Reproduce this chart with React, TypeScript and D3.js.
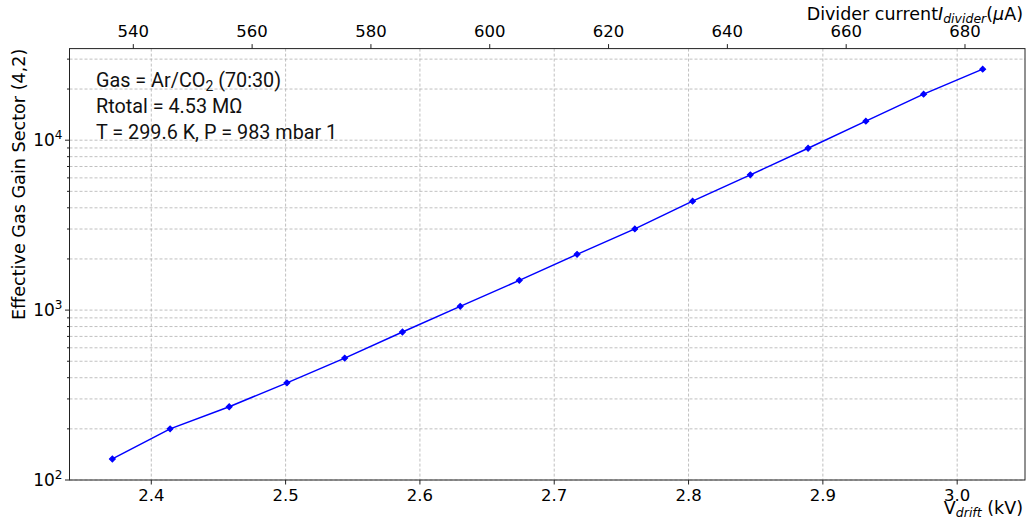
import * as d3 from 'd3'
import { useEffect, useRef } from 'react'

// drift voltage (kV) and measured effective gain
const vDrift = [2.371, 2.414, 2.458, 2.501, 2.544, 2.587, 2.63, 2.674, 2.717, 2.76, 2.803, 2.846, 2.889, 2.932, 2.975, 3.019]
const gain = [133, 200, 270, 373, 522, 743, 1052, 1496, 2128, 3006, 4375, 6250, 8970, 12940, 18660, 26180]

const bottomTicks = [2.4, 2.5, 2.6, 2.7, 2.8, 2.9, 3.0]
const topTicks = [540, 560, 580, 600, 620, 640, 660, 680]
const yMajor = [100, 1000, 10000]
const yMinor = [200, 300, 400, 500, 600, 700, 800, 900, 2000, 3000, 4000, 5000, 6000, 7000, 8000, 9000, 20000, 30000]

const W = 1029
const H = 529
const font = 'DejaVu Sans, sans-serif'

export default function App() {
  const svgRef = useRef<SVGSVGElement>(null)

  useEffect(() => {
    const svg = d3.select(svgRef.current)
    svg.selectAll('*').remove()

    const left = 69.5
    const right = 1025
    const top = 48.6
    const bottom = 480

    const x = d3.scaleLinear().domain([2.3391, 3.0505]).range([left, right])
    const xTop = d3.scaleLinear().domain([529.26, 690.1]).range([left, right])
    const y = d3.scaleLog().domain([100, 34600]).range([bottom, top])

    svg.append('rect').attr('width', W).attr('height', H).attr('fill', 'white')

    // grid
    const grid = svg.append('g').attr('stroke', '#b0b0b0').attr('stroke-width', 0.8).attr('stroke-dasharray', '3,2')
    grid
      .selectAll('line.h')
      .data([...yMajor, ...yMinor])
      .join('line')
      .attr('x1', left)
      .attr('x2', right)
      .attr('y1', (d) => y(d))
      .attr('y2', (d) => y(d))
    grid
      .selectAll('line.v')
      .data(bottomTicks)
      .join('line')
      .attr('x1', (d) => x(d))
      .attr('x2', (d) => x(d))
      .attr('y1', top)
      .attr('y2', bottom)

    // data
    const line = d3
      .line<number>()
      .x((d, i) => x(vDrift[i]))
      .y((d) => y(d))
    svg
      .append('path')
      .datum(gain)
      .attr('fill', 'none')
      .attr('stroke', '#0000ff')
      .attr('stroke-width', 1.5)
      .attr('d', line)
    svg
      .append('g')
      .selectAll('path')
      .data(gain)
      .join('path')
      .attr('d', d3.symbol().type(d3.symbolSquare).size(16))
      .attr('transform', (d, i) => `translate(${x(vDrift[i])},${y(d)}) rotate(45)`)
      .attr('fill', '#0000ff')
      .attr('stroke', '#0000ff')
      .attr('stroke-width', 1.2)

    // frame
    svg
      .append('rect')
      .attr('x', left)
      .attr('y', top)
      .attr('width', right - left)
      .attr('height', bottom - top)
      .attr('fill', 'none')
      .attr('stroke', '#222')
      .attr('stroke-width', 1)

    // bottom ticks
    const bt = svg.append('g')
    bottomTicks.forEach((t) => {
      bt.append('line').attr('x1', x(t)).attr('x2', x(t)).attr('y1', bottom).attr('y2', bottom + 4.5).attr('stroke', '#222')
      bt.append('text')
        .attr('x', x(t))
        .attr('y', 501)
        .attr('text-anchor', 'middle')
        .attr('font-family', font)
        .attr('font-size', 16.5)
        .text(t.toFixed(1))
    })

    // top ticks
    topTicks.forEach((t) => {
      bt.append('line').attr('x1', xTop(t)).attr('x2', xTop(t)).attr('y1', top).attr('y2', top - 4.5).attr('stroke', '#222')
      bt.append('text')
        .attr('x', xTop(t))
        .attr('y', 37)
        .attr('text-anchor', 'middle')
        .attr('font-family', font)
        .attr('font-size', 16.5)
        .text(t)
    })

    // y ticks
    yMajor.forEach((t) => {
      bt.append('line').attr('x1', left).attr('x2', left - 4.5).attr('y1', y(t)).attr('y2', y(t)).attr('stroke', '#222')
      const tx = bt
        .append('text')
        .attr('x', left - 7)
        .attr('y', y(t) + 6)
        .attr('text-anchor', 'end')
        .attr('font-family', font)
        .attr('font-size', 17)
      tx.append('tspan').text('10')
      tx.append('tspan').attr('dy', -7).attr('font-size', 12).text(Math.round(Math.log10(t)))
    })
    yMinor.forEach((t) => {
      bt.append('line').attr('x1', left).attr('x2', left - 2.5).attr('y1', y(t)).attr('y2', y(t)).attr('stroke', '#222')
    })

    // axis labels
    svg
      .append('text')
      .attr('transform', `translate(25,${top}) rotate(-90)`)
      .attr('text-anchor', 'end')
      .attr('font-family', font)
      .attr('font-size', 17.6)
      .text('Effective Gas Gain Sector (4,2)')

    const xl = svg
      .append('text')
      .attr('x', 1023)
      .attr('y', 514)
      .attr('text-anchor', 'end')
      .attr('font-family', font)
      .attr('font-size', 17.5)
    xl.append('tspan').text('V')
    xl.append('tspan').attr('dy', 3).attr('font-size', 12.5).attr('font-style', 'italic').text('drift')
    xl.append('tspan').attr('dy', -3).text(' (kV)')

    const tl = svg
      .append('text')
      .attr('x', 1023)
      .attr('y', 20)
      .attr('text-anchor', 'end')
      .attr('font-family', font)
      .attr('font-size', 17.5)
    tl.append('tspan').text('Divider current')
    tl.append('tspan').attr('font-style', 'italic').text('I')
    tl.append('tspan').attr('dy', 3).attr('font-size', 12.5).attr('font-style', 'italic').text('divider')
    tl.append('tspan').attr('dy', -3).text('(')
    tl.append('tspan').attr('font-style', 'italic').text('\u03bc')
    tl.append('tspan').text('A)')

    // info box
    const info = svg.append('g').attr('font-family', 'Roboto, sans-serif').attr('font-size', 19.8).attr('fill', '#111')
    const l1 = info.append('text').attr('x', 96).attr('y', 87)
    l1.append('tspan').text('Gas = Ar/CO')
    l1.append('tspan').attr('dy', 4).attr('font-size', 14).text('2')
    l1.append('tspan').attr('dy', -4).text(' (70:30)')
    info.append('text').attr('x', 96).attr('y', 113).text('Rtotal = 4.53 M\u03a9')
    info.append('text').attr('x', 96).attr('y', 138.5).text('T = 299.6 K, P = 983 mbar 1')
  }, [])

  return (
    <div style={{ position: 'absolute', left: 0, top: 0 }}>
      <svg ref={svgRef} width={W} height={H} style={{ display: 'block' }} />
    </div>
  )
}
